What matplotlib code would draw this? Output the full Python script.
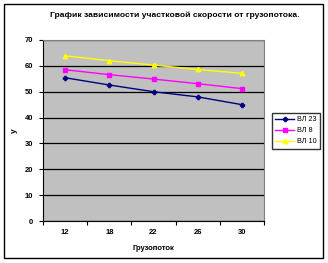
import matplotlib
matplotlib.use("Agg")
import matplotlib.pyplot as plt
from matplotlib.patches import Rectangle

plt.rcParams['font.family'] = ['Liberation Sans', 'DejaVu Sans']

categories = ["12", "18", "22", "26", "30"]
vl23 = [55.4, 52.6, 50.0, 48.0, 45.0]
vl8 = [58.5, 56.6, 54.9, 53.1, 51.2]
vl10 = [63.9, 62.0, 60.3, 58.6, 57.1]

fig = plt.figure(figsize=(3.28, 2.63), dpi=100)
fig.patch.set_facecolor("white")

# outer chart border
fig.patches.append(Rectangle((4 / 328, 5 / 263), 319 / 328, 254 / 263,
                             transform=fig.transFigure, fill=False,
                             edgecolor="black", linewidth=1.0))

ax = fig.add_axes([43 / 328, 42 / 263, 221 / 328, 181 / 263])
ax.set_facecolor("#c0c0c0")

x = list(range(len(categories)))
ax.plot(x, vl23, color="#000080", marker="P", markersize=3, linewidth=1.0, label="ВЛ 23")
ax.plot(x, vl8, color="#ff00ff", marker="s", markersize=3, linewidth=1.0, label="ВЛ 8")
ax.plot(x, vl10, color="#ffff00", marker="^", markersize=3.2, linewidth=1.0, label="ВЛ 10")

ax.set_xlim(-0.5, len(categories) - 0.5)
ax.set_ylim(0, 70)
ax.set_yticks(range(0, 71, 10))
ax.set_xticks(x)
ax.set_xticklabels(categories)
ax.set_xticks([i - 0.5 for i in range(len(categories) + 1)], minor=True)
ax.tick_params(axis="x", which="major", length=0, pad=6)
ax.tick_params(axis="x", which="minor", length=3, direction="out", width=0.8)
ax.tick_params(axis="y", length=3, direction="out", width=0.8, pad=4)
for lab in ax.get_xticklabels() + ax.get_yticklabels():
    lab.set_fontsize(5.5)
    lab.set_fontweight("bold")

ax.yaxis.grid(True, color="black", linewidth=0.9)
ax.set_axisbelow(True)
for side in ["top", "right"]:
    ax.spines[side].set_color("#808080")
ax.spines["left"].set_color("black")
ax.spines["bottom"].set_color("black")

ax.set_xlabel("Грузопоток", fontsize=5.5, fontweight="bold", labelpad=6)
ax.set_ylabel("у", fontsize=6, fontweight="bold", labelpad=5)

fig.text(175 / 328, 1 - 15 / 263, "График зависимости участковой скорости от грузопотока.",
         ha="center", va="center", fontsize=6.1, fontweight="bold")

leg = fig.legend(loc="upper left", bbox_to_anchor=(272 / 328, 1 - 113 / 263),
                 fontsize=5.2, frameon=True, fancybox=False, edgecolor="black",
                 borderpad=0.45, handlelength=2.6, labelspacing=0.55, handletextpad=0.4,
                 borderaxespad=0)
leg.get_frame().set_linewidth(1.0)

fig.savefig("out.png", dpi=100)
